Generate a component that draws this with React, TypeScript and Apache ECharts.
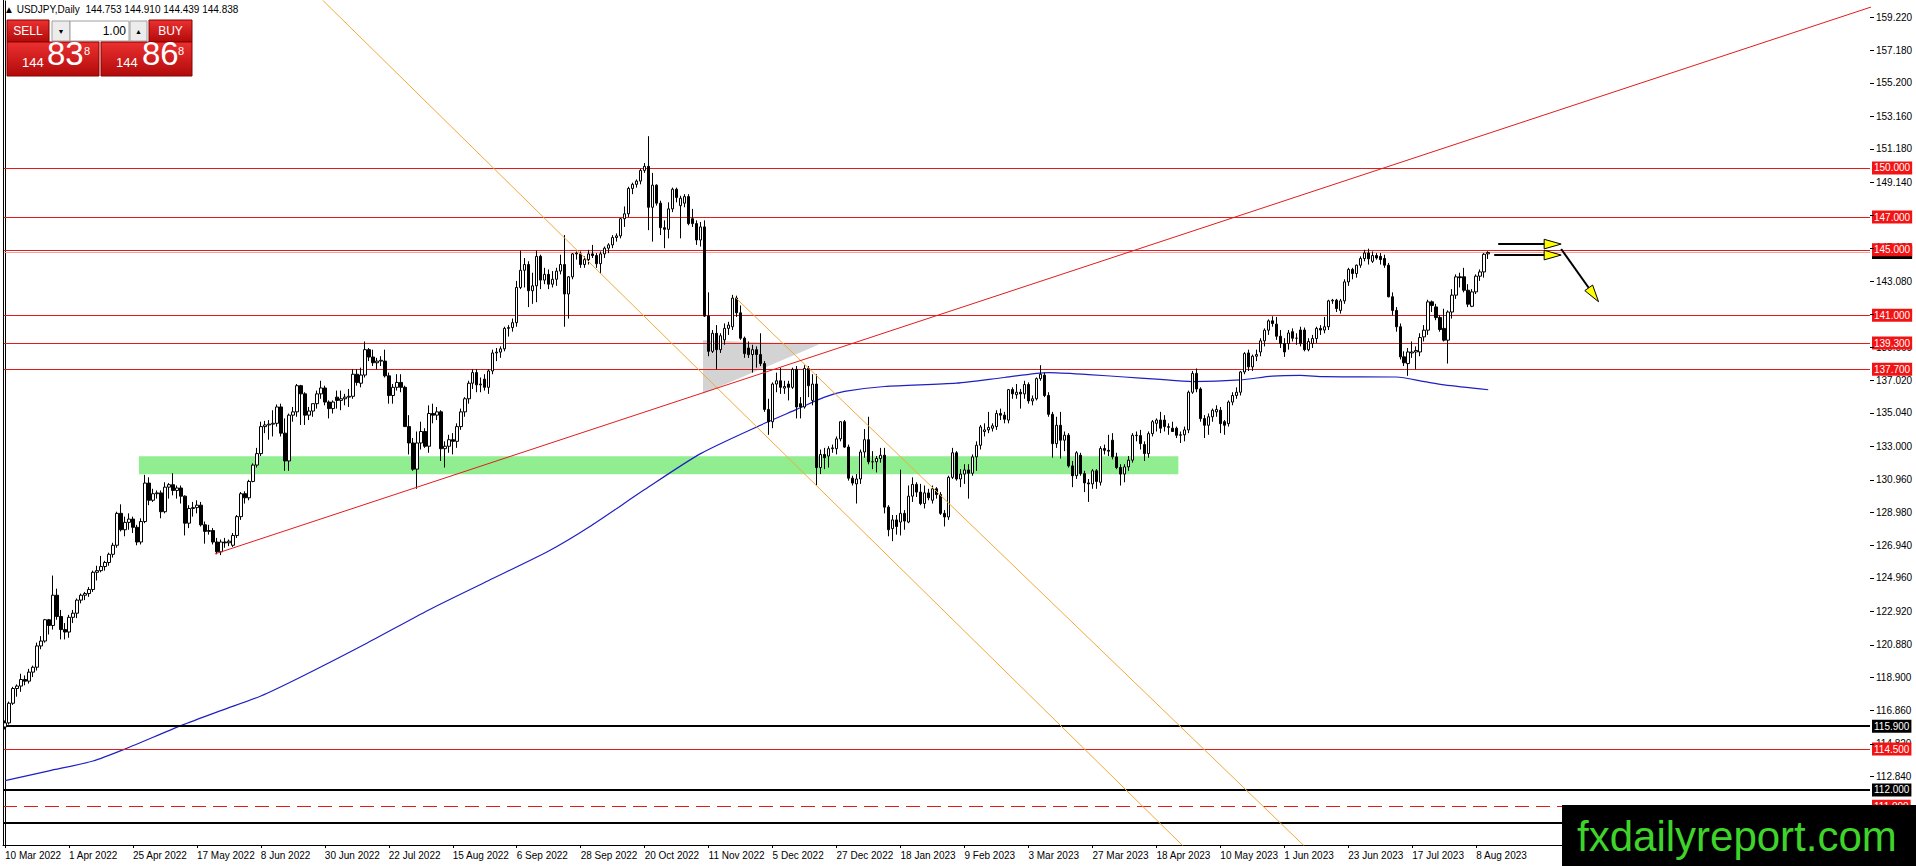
import React, { useEffect, useRef } from "react";
import * as echarts from "echarts";

// ---------- DATA ----------
// Each bar: [open, high, low, close]
const mar2022 = [
  [115.85, 116.25, 115.7, 116.1], [116.1, 117.4, 116.0, 117.3], [117.3, 118.3, 117.2, 118.2], [118.2, 118.45, 117.7, 118.35],
  [118.35, 119.1, 118.0, 118.75], [118.75, 119.0, 118.4, 118.65], [118.65, 119.4, 118.5, 119.2], [119.2, 119.6, 118.9, 119.5],
  [119.5, 121.0, 119.3, 120.8], [120.8, 121.4, 120.6, 121.1], [121.1, 122.45, 121.0, 122.4], [122.4, 122.45, 121.5, 122.05],
  [122.05, 125.1, 121.8, 123.9], [123.9, 124.3, 122.4, 122.6], [122.6, 123.0, 121.2, 121.8], [121.8, 122.2, 121.2, 121.65],
];
const apr2022 = [
  [121.65, 122.7, 121.3, 122.55], [122.55, 123.0, 122.2, 122.8], [122.8, 123.7, 122.5, 123.6], [123.6, 124.0, 123.4, 123.9],
  [123.9, 124.1, 123.6, 124.0], [124.0, 124.4, 123.8, 124.25], [124.25, 125.4, 124.1, 125.3], [125.3, 125.7, 124.8, 125.4],
  [125.4, 126.3, 125.3, 125.65], [125.65, 126.0, 125.4, 125.9], [125.9, 126.5, 125.7, 126.4], [126.4, 127.1, 126.2, 126.95],
  [126.95, 129.0, 126.8, 128.9], [128.9, 129.45, 127.8, 127.9], [127.9, 128.7, 127.5, 128.35], [128.35, 128.9, 127.9, 128.55],
  [128.55, 128.7, 127.7, 128.05], [128.05, 128.2, 126.95, 127.15], [127.15, 128.6, 127.0, 128.4], [128.4, 131.25, 128.3, 130.75],
  [130.75, 131.1, 129.4, 129.7],
];
const may2022 = [
  [129.7, 130.4, 129.6, 130.1], [130.1, 130.3, 129.8, 130.15], [130.15, 130.3, 128.6, 129.0], [129.0, 130.8, 128.9, 130.5],
  [130.5, 130.75, 129.8, 130.65], [130.65, 131.35, 130.0, 130.3], [130.3, 130.6, 129.8, 130.45], [130.45, 130.6, 129.5, 129.95],
  [129.95, 130.0, 127.55, 128.3], [128.3, 129.4, 128.0, 129.2], [129.2, 129.6, 128.7, 129.25], [129.25, 129.7, 128.9, 129.4],
  [129.4, 129.6, 128.1, 128.2], [128.2, 128.4, 127.05, 127.8], [127.8, 128.2, 127.6, 127.85], [127.85, 128.0, 127.0, 127.15],
  [127.15, 127.4, 126.4, 126.55], [126.55, 127.3, 126.35, 127.15], [127.15, 127.4, 126.8, 127.1], [127.1, 127.3, 126.9, 127.2],
  [126.95, 127.7, 126.85, 127.55], [127.55, 128.8, 127.4, 128.7],
];
const jun2022 = [
  [128.7, 130.2, 128.5, 130.1], [130.1, 130.25, 129.5, 129.85], [129.85, 130.95, 129.7, 130.85], [130.85, 131.95, 130.8, 131.85],
  [131.85, 132.9, 131.7, 132.55], [132.55, 134.5, 132.4, 134.2], [134.2, 134.55, 133.8, 134.3], [134.3, 134.6, 133.4, 134.35],
  [134.35, 135.2, 133.6, 134.4], [134.4, 135.55, 134.2, 135.4], [135.4, 135.6, 133.6, 133.8], [133.8, 134.7, 131.5, 132.1],
  [132.1, 135.0, 131.5, 134.9], [134.9, 135.4, 134.5, 135.1], [135.1, 136.8, 134.8, 136.7], [136.7, 136.75, 134.3, 136.2],
  [136.2, 136.3, 134.3, 134.9], [134.9, 135.4, 134.6, 135.15], [135.15, 135.6, 134.8, 135.6], [135.6, 136.4, 135.3, 136.2],
  [136.2, 137.0, 135.9, 136.56], [136.56, 136.7, 135.5, 135.7],
];
const jul2022 = [
  [135.7, 135.8, 134.7, 135.3], [135.3, 135.8, 135.0, 135.7], [136.0, 136.4, 135.3, 135.8], [135.8, 136.4, 135.2, 135.9],
  [135.9, 136.2, 135.5, 136.0], [136.0, 136.5, 135.4, 136.05], [136.05, 137.7, 135.9, 137.4], [137.4, 137.7, 136.7, 136.9],
  [136.85, 137.8, 136.6, 137.35], [137.35, 139.4, 137.2, 138.9], [138.9, 139.0, 138.2, 138.45], [138.45, 138.9, 137.9, 138.1],
  [138.1, 138.4, 137.7, 138.2], [138.2, 138.5, 137.9, 138.25], [138.2, 138.9, 137.2, 137.3], [137.3, 137.5, 135.6, 136.1],
  [136.1, 136.8, 135.6, 136.6], [136.6, 137.4, 136.4, 136.9], [136.9, 137.4, 136.3, 136.6], [136.6, 136.7, 134.2, 134.2],
  [134.2, 134.9, 132.5, 133.2],
];
const aug2022 = [
  [133.2, 133.5, 131.5, 131.6], [131.6, 133.9, 130.4, 133.2], [133.2, 134.5, 132.8, 133.9], [133.9, 134.1, 132.9, 133.0],
  [133.0, 135.5, 132.6, 135.0], [135.0, 135.6, 134.4, 134.9], [134.9, 135.4, 134.6, 135.1], [135.1, 135.2, 132.1, 132.85],
  [132.85, 133.3, 131.7, 133.0], [133.0, 133.7, 132.6, 133.4], [133.4, 133.8, 132.5, 133.3], [133.3, 134.4, 132.9, 134.2],
  [134.2, 135.3, 134.0, 135.1], [135.1, 136.0, 134.8, 135.9], [135.9, 137.0, 135.6, 136.85], [136.85, 137.7, 136.5, 137.5],
  [137.5, 137.7, 136.3, 136.75], [136.75, 137.2, 136.3, 136.8], [137.1, 137.4, 136.4, 136.6], [136.6, 137.7, 136.2, 137.6],
  [137.6, 138.9, 137.4, 138.7], [138.7, 139.0, 138.2, 138.75], [138.75, 139.1, 138.4, 138.95],
];
const sep2022 = [
  [138.95, 140.3, 138.8, 140.2], [140.2, 140.4, 139.7, 140.25], [140.25, 140.8, 140.0, 140.55], [140.55, 143.1, 140.3, 142.7],
  [142.7, 144.95, 142.6, 143.75], [143.75, 144.5, 142.7, 144.1], [144.1, 144.3, 141.5, 142.5], [142.5, 143.6, 141.7, 142.8],
  [142.8, 144.95, 141.8, 144.6], [144.6, 144.7, 142.6, 143.15], [143.15, 143.9, 142.9, 143.5], [143.5, 143.8, 142.6, 142.9],
  [142.9, 143.7, 142.7, 143.2], [143.2, 143.9, 142.8, 143.7], [143.7, 144.7, 143.5, 144.1], [144.1, 145.9, 140.3, 142.3],
  [142.3, 143.4, 140.8, 143.35], [143.35, 144.8, 143.2, 144.75], [144.75, 144.9, 144.4, 144.8], [144.75, 144.9, 143.9, 144.1],
  [144.1, 144.6, 143.9, 144.4], [144.4, 145.0, 144.1, 144.75],
];
const oct2022 = [
  [144.75, 145.3, 144.5, 144.65], [144.65, 144.8, 143.9, 144.15], [144.15, 144.9, 143.55, 144.75], [144.75, 145.2, 144.5, 145.1],
  [145.1, 145.4, 144.8, 145.3], [145.3, 145.9, 145.1, 145.75], [145.75, 146.0, 145.5, 145.85], [145.85, 146.95, 145.7, 146.9],
  [146.9, 147.65, 146.4, 147.2], [147.2, 148.85, 147.0, 148.75], [148.75, 149.1, 148.4, 149.0], [149.0, 149.3, 148.8, 149.2],
  [149.2, 149.95, 149.0, 149.85], [149.85, 150.3, 149.7, 150.1], [150.1, 151.94, 146.2, 147.6], [147.6, 149.7, 145.5, 148.95],
  [148.95, 149.0, 147.7, 147.85], [147.85, 148.0, 145.9, 146.35], [146.35, 146.8, 145.1, 146.25], [146.25, 147.9, 145.7, 147.5],
  [147.5, 148.8, 147.3, 148.7],
];
const nov2022 = [
  [148.7, 148.8, 147.9, 148.2], [147.7, 148.3, 145.7, 148.15], [147.85, 148.4, 147.6, 148.25], [148.25, 148.4, 146.5, 146.6],
  [146.9, 147.5, 146.4, 146.6], [146.6, 146.8, 145.3, 145.6], [145.6, 146.7, 145.2, 146.4], [146.4, 146.8, 140.9, 140.95],
  [140.95, 142.4, 138.5, 138.8], [138.8, 140.1, 138.7, 139.9], [139.9, 140.4, 137.7, 138.9], [138.9, 139.9, 138.7, 139.75],
  [139.5, 140.5, 139.2, 140.2], [140.2, 140.6, 139.8, 140.4], [140.3, 142.25, 140.1, 142.05], [142.05, 142.2, 140.9, 141.15],
  [141.15, 141.6, 139.5, 139.6], [139.6, 139.7, 138.4, 138.66], [139.0, 139.4, 138.4, 138.6], [138.6, 139.2, 137.5, 138.9],
  [138.9, 139.1, 137.8, 138.6], [138.6, 139.9, 137.9, 138.05],
];
const dec2022 = [
  [138.05, 138.2, 135.1, 135.25], [135.25, 135.9, 133.7, 134.5], [134.5, 136.9, 134.1, 136.8], [136.8, 137.5, 136.3, 137.0],
  [137.0, 137.8, 136.2, 136.6], [136.55, 137.0, 136.2, 136.65], [136.8, 137.0, 135.8, 136.6], [136.6, 137.8, 136.5, 137.7],
  [137.7, 137.9, 134.7, 135.4], [135.6, 136.0, 134.7, 135.4], [135.4, 137.95, 135.3, 137.75], [137.75, 137.9, 136.0, 136.7],
  [135.8, 137.4, 135.5, 136.8], [136.8, 137.4, 130.6, 131.7], [131.7, 132.8, 131.3, 132.5], [132.5, 132.9, 131.6, 132.3],
  [132.4, 133.0, 131.7, 132.85], [132.85, 133.1, 132.6, 132.9], [132.85, 133.6, 132.5, 133.45], [133.45, 134.5, 133.3, 134.5],
  [134.5, 134.6, 132.9, 132.95], [132.95, 133.1, 130.9, 131.05],
];
const jan2023 = [
  [131.05, 131.2, 130.6, 130.75], [130.7, 131.3, 129.5, 131.0], [131.0, 132.8, 130.7, 132.65], [132.65, 134.05, 132.3, 133.4],
  [133.4, 134.8, 131.9, 132.05], [132.05, 132.7, 131.6, 132.05], [132.05, 132.4, 131.4, 132.25], [132.25, 132.9, 132.0, 132.45],
  [132.45, 132.9, 128.9, 129.28], [129.28, 129.4, 127.5, 127.9], [127.97, 128.8, 127.2, 128.5], [128.5, 128.8, 127.6, 128.1],
  [128.37, 131.57, 127.55, 128.9], [128.9, 129.1, 127.9, 128.43], [128.37, 130.6, 128.3, 129.95], [129.95, 131.1, 129.6, 130.67],
  [130.67, 130.8, 129.9, 130.2], [130.2, 130.7, 129.4, 129.5], [129.5, 130.6, 129.2, 130.15], [130.15, 130.4, 129.7, 129.85],
  [129.7, 130.6, 129.5, 130.4], [130.4, 130.5, 129.8, 130.05],
];
const feb2023 = [
  [130.05, 130.2, 128.8, 128.9], [128.9, 129.1, 128.1, 128.68], [128.68, 131.2, 128.5, 131.1], [131.1, 132.9, 131.0, 132.6],
  [132.6, 132.7, 130.9, 131.0], [131.0, 131.6, 130.5, 131.3], [131.3, 131.9, 130.7, 131.55], [131.55, 131.9, 129.8, 131.35],
  [131.35, 132.5, 131.2, 132.35], [132.35, 133.3, 131.5, 133.06], [133.06, 134.3, 132.8, 134.18], [133.9, 134.4, 133.6, 134.0],
  [134.0, 135.1, 133.8, 134.15], [134.1, 134.4, 133.9, 134.25], [134.2, 135.2, 134.0, 135.0], [135.0, 135.3, 134.6, 134.9],
  [134.9, 135.1, 134.4, 134.65], [134.6, 136.5, 134.4, 136.46], [136.46, 136.6, 135.9, 136.2], [136.15, 136.8, 135.9, 136.3],
];
const mar2023 = [
  [136.3, 136.5, 135.3, 136.2], [136.2, 137.0, 135.9, 136.77], [136.77, 136.9, 135.6, 135.77], [135.77, 136.1, 135.5, 135.9],
  [135.9, 137.2, 135.8, 137.13], [137.13, 137.95, 137.0, 137.4], [137.34, 137.5, 136.0, 136.1], [136.1, 136.3, 134.8, 134.95],
  [134.95, 135.1, 132.3, 133.16], [133.16, 134.8, 132.9, 134.28], [134.28, 135.1, 132.25, 133.37], [133.37, 133.9, 132.7, 133.67],
  [133.67, 133.8, 131.7, 131.8], [131.8, 132.1, 130.5, 131.2], [131.2, 132.7, 131.0, 132.6], [132.45, 132.6, 131.2, 131.33],
  [131.33, 131.5, 130.2, 130.76], [130.76, 131.0, 129.6, 130.7], [130.7, 131.6, 130.4, 131.5], [131.5, 131.6, 130.4, 130.85],
  [130.8, 133.0, 130.6, 132.86], [132.86, 133.1, 132.5, 132.75], [132.75, 133.7, 132.4, 132.7],
];
const apr2023 = [
  [133.37, 133.8, 132.2, 132.35], [132.35, 132.6, 131.6, 131.7], [131.7, 131.9, 130.6, 131.3], [131.3, 131.9, 130.8, 131.74],
  [131.74, 132.4, 131.5, 132.15], [132.15, 133.8, 132.0, 133.67], [133.67, 133.9, 133.3, 133.65], [133.65, 134.0, 132.8, 133.16],
  [133.1, 133.3, 132.1, 132.55], [132.55, 133.9, 132.3, 133.77], [133.77, 134.6, 133.6, 134.5], [134.4, 134.7, 133.9, 134.6],
  [134.6, 135.1, 133.8, 134.1], [134.6, 134.9, 133.9, 134.2], [134.15, 134.4, 133.7, 134.2], [134.1, 134.5, 133.9, 133.9],
  [134.1, 134.2, 133.5, 133.67], [133.67, 133.9, 133.2, 133.7], [133.7, 134.2, 133.3, 134.0], [134.0, 136.4, 133.8, 136.3],
];
const may2023 = [
  [136.3, 137.6, 136.2, 137.45], [137.45, 137.75, 136.3, 136.5], [136.5, 136.6, 134.5, 134.69], [134.69, 134.9, 133.5, 134.28],
  [134.28, 135.0, 133.7, 134.8], [134.8, 135.3, 134.5, 135.2], [135.1, 135.5, 134.8, 135.25], [135.2, 135.4, 133.8, 134.38],
  [134.5, 134.6, 133.7, 134.28], [134.38, 135.8, 134.2, 135.7], [135.7, 136.3, 135.5, 136.1], [136.1, 136.6, 135.9, 136.3],
  [136.3, 137.6, 136.1, 137.54], [137.54, 138.75, 137.4, 138.66], [138.7, 138.9, 137.6, 137.85], [137.85, 138.6, 137.6, 138.5],
  [138.5, 138.9, 138.2, 138.6], [138.76, 139.6, 138.5, 139.44], [139.44, 140.2, 139.1, 140.09], [140.09, 140.75, 139.8, 140.66],
  [140.66, 140.94, 140.3, 140.5], [140.46, 140.9, 139.5, 139.72], [139.72, 140.1, 139.0, 139.27],
];
const jun2023 = [
  [139.27, 139.6, 138.46, 138.76], [139.27, 140.1, 138.9, 139.92], [140.0, 140.2, 139.4, 139.6], [139.6, 139.9, 139.2, 139.6],
  [140.1, 140.3, 139.1, 139.27], [140.1, 140.25, 138.8, 138.9], [138.9, 139.6, 138.8, 139.4], [139.27, 139.8, 139.0, 139.58],
  [139.58, 140.3, 139.3, 140.2], [140.2, 140.4, 139.8, 140.1], [140.1, 140.9, 139.9, 140.3], [140.3, 141.95, 140.1, 141.88],
  [141.88, 142.0, 141.7, 141.92], [141.92, 142.0, 141.2, 141.41], [141.3, 142.0, 141.1, 141.88], [141.88, 143.2, 141.7, 143.04],
  [143.04, 143.9, 142.8, 143.8], [143.8, 143.9, 143.2, 143.55], [143.55, 144.1, 143.3, 144.06], [144.06, 144.6, 143.9, 144.47],
  [144.47, 145.0, 144.3, 144.81], [144.81, 145.07, 144.1, 144.45],
];
const jul2023 = [
  [144.3, 144.9, 144.2, 144.65], [144.65, 144.8, 144.4, 144.5], [144.6, 144.8, 144.1, 144.4], [144.47, 144.7, 143.9, 144.06],
  [144.06, 144.2, 142.1, 142.13], [142.13, 142.4, 141.0, 141.3], [141.3, 141.5, 140.0, 140.3], [140.3, 140.5, 138.3, 138.46],
  [138.46, 138.8, 137.9, 138.1], [138.05, 139.0, 137.3, 138.76], [138.7, 139.4, 138.4, 138.76], [138.76, 139.1, 137.7, 138.85],
  [138.76, 139.9, 138.5, 139.64], [139.68, 140.4, 139.4, 140.09], [140.09, 141.95, 139.8, 141.82], [141.82, 141.9, 141.2, 141.6],
  [141.51, 141.7, 140.7, 140.86], [140.86, 141.0, 140.0, 140.13], [140.2, 141.4, 139.4, 139.48], [139.48, 141.3, 138.05, 141.2],
  [141.2, 142.6, 140.8, 142.23],
];
const aug2023 = [
  [142.23, 143.5, 142.0, 143.35], [143.35, 143.6, 142.7, 143.3], [143.35, 143.9, 142.4, 142.53], [142.53, 142.9, 141.5, 141.68],
  [141.55, 142.6, 141.5, 142.43], [142.43, 143.5, 142.3, 143.39], [143.39, 143.8, 143.1, 143.65], [143.65, 144.8, 143.3, 144.73],
  [144.753, 144.91, 144.439, 144.838],
];

// 200-period moving average, sampled at bar indexes: [bar, price]
const movingAverage = [
  [0, 112.57], [11, 113.17], [22, 113.77], [30, 114.5], [44, 115.93], [54, 116.85], [64, 117.74], [74, 118.9],
  [90, 120.9], [106, 123.0], [121, 124.8], [136, 126.6], [146, 128.05], [160, 130.35], [174, 132.55], [190, 134.4],
  [198, 135.25], [205, 136.0], [210, 136.35], [220, 136.65], [238, 136.85], [250, 137.2], [261, 137.5], [271, 137.38],
  [280, 137.23], [288, 137.1], [297, 136.95], [309, 137.05], [317, 137.28], [324, 137.33], [330, 137.25], [348, 137.23],
  [355, 136.95], [360, 136.75], [371, 136.45],
];

// drawn objects, in [bar, price]
const risingTrendLine = [[52.5, 126.42], [467, 159.85]];
const channelLower = [[78, 160.6], [300, 107.3]];
const channelUpper = [[182.5, 142.13], [330, 107.4]];
const greenZoneBars = [33.5, 293.5];
const greenZonePrices = [131.29, 132.39];
const greyTriangle = [[174.6, 139.47], [203.75, 139.23], [174.6, 136.21]];
const arrowSegments = [
  [[373.5, 145.35], [389.25, 145.35]],
  [[372.5, 144.68], [389.25, 144.68]],
  [[389.25, 145.05], [398.6, 141.83]],
];

const redLevels = [150.0, 147.0, 145.0, 141.0, 139.3, 137.7, 114.5];
const dashedLevels = [111.0];
const blackLevels = [115.9, 112.0, 110.0];
const bidPrice = 144.838;
const headerText = "\u25B2 USDJPY,Daily  144.753 144.910 144.439 144.838";

const priceTicks = [
  159.22, 157.18, 155.2, 153.16, 151.18, 149.14, 147.1, 145.12, 143.08, 141.1, 139.06, 137.02, 135.04,
  133.0, 130.96, 128.98, 126.94, 124.96, 122.92, 120.88, 118.9, 116.86, 114.82, 112.84, 110.8,
];

const MONTHS = ["Jan", "Feb", "Mar", "Apr", "May", "Jun", "Jul", "Aug", "Sep", "Oct", "Nov", "Dec"];
const TOTAL_SLOTS = 467;
const LABEL_EVERY = 16;

// ---------- helpers ----------
const FONT = '"Liberation Sans", Arial, sans-serif';
const RED = "#e31b1b";
const RED_BOX = "#f21414";
const Y_MIN = 108.64;
const Y_MAX = 160.2;

const bars = [
  ...mar2022, ...apr2022, ...may2022, ...jun2022, ...jul2022, ...aug2022, ...sep2022, ...oct2022, ...nov2022,
  ...dec2022, ...jan2023, ...feb2023, ...mar2023, ...apr2023, ...may2023, ...jun2023, ...jul2023, ...aug2023,
];

function buildDates(count: number): string[] {
  const out: string[] = [];
  let t = Date.UTC(2022, 2, 10);
  while (out.length < count) {
    const d = new Date(t);
    const wd = d.getUTCDay();
    if (wd !== 0 && wd !== 6) out.push(`${d.getUTCDate()} ${MONTHS[d.getUTCMonth()]} ${d.getUTCFullYear()}`);
    t += 86400000;
  }
  return out;
}

function buildOption() {
  const dates = buildDates(bars.length);
  const categories: string[] = [];
  for (let i = 0; i < TOTAL_SLOTS; i++) categories.push(i < dates.length ? dates[i] : `+${i}`);
  const showAt = (i: number) => i % LABEL_EVERY === 0 && i < dates.length;
  const candleData = bars.map(([o, h, l, c]) => [o, c, l, h]);

  const boxLabel = (bg: string) => ({
    show: true,
    position: "end",
    distance: 2,
    formatter: (p: any) => Number(p.value).toFixed(3),
    color: "#ffffff",
    backgroundColor: bg,
    padding: [2, 2, 1, 2],
    fontSize: 10,
    fontFamily: FONT,
    lineHeight: 10,
  });

  const levelItems: any[] = [
    { yAxis: bidPrice, lineStyle: { color: "#f2a5a5", width: 1, type: "solid" }, label: boxLabel("#000000") },
    ...redLevels.map((v) => ({ yAxis: v, lineStyle: { color: RED, width: 1, type: "solid" }, label: boxLabel(RED_BOX) })),
    ...dashedLevels.map((v) => ({ yAxis: v, lineStyle: { color: RED, width: 1, type: [14, 7] }, label: boxLabel(RED_BOX) })),
    ...blackLevels.map((v) => ({ yAxis: v, lineStyle: { color: "#000000", width: 2, type: "solid" }, label: boxLabel("#000000") })),
  ];

  const redGrad = () =>
    new echarts.graphic.LinearGradient(0, 0, 0, 1, [
      { offset: 0, color: "#ec3030" },
      { offset: 1, color: "#b10a0a" },
    ]);
  const txt = (text: string, x: number, y: number, size: number, fill: string, align = "left", valign = "middle") => ({
    type: "text",
    x,
    y,
    z: 101,
    style: {
      text,
      fill,
      font: `${size}px ${FONT}`,
      textAlign: align,
      align,
      textVerticalAlign: valign,
      verticalAlign: valign,
    },
  });

  const graphic: any[] = [
    { type: "line", z: 99, shape: { x1: 3.5, y1: 0, x2: 3.5, y2: 845 }, style: { stroke: "#000000", lineWidth: 1 } },
    txt(headerText, 4, 9, 10, "#000000"),
    { type: "rect", z: 100, shape: { x: 7, y: 20, width: 42, height: 22 }, style: { fill: redGrad(), stroke: "#8a0000", lineWidth: 1 } },
    txt("SELL", 28, 31, 12, "#ffffff", "center"),
    { type: "rect", z: 100, shape: { x: 52, y: 21, width: 18, height: 20 }, style: { fill: "#ececec", stroke: "#a0a0a0", lineWidth: 1 } },
    txt("\u25BC", 61, 31, 7, "#000000", "center"),
    { type: "rect", z: 100, shape: { x: 70, y: 21, width: 59, height: 20 }, style: { fill: "#ffffff", stroke: "#a0a0a0", lineWidth: 1 } },
    txt("1.00", 126, 31, 12, "#000000", "right"),
    { type: "rect", z: 100, shape: { x: 130, y: 21, width: 17, height: 20 }, style: { fill: "#ececec", stroke: "#a0a0a0", lineWidth: 1 } },
    txt("\u25B2", 138.5, 31, 7, "#000000", "center"),
    { type: "rect", z: 100, shape: { x: 149, y: 20, width: 43, height: 22 }, style: { fill: redGrad(), stroke: "#8a0000", lineWidth: 1 } },
    txt("BUY", 170.5, 31, 12, "#ffffff", "center"),
    { type: "rect", z: 100, shape: { x: 7, y: 42, width: 92, height: 34 }, style: { fill: redGrad(), stroke: "#8a0000", lineWidth: 1 } },
    { type: "rect", z: 100, shape: { x: 101, y: 42, width: 91, height: 34 }, style: { fill: redGrad(), stroke: "#8a0000", lineWidth: 1 } },
    txt("144", 22, 69, 13, "#ffffff", "left", "bottom"),
    txt("83", 47, 70, 33, "#ffffff", "left", "bottom"),
    txt("8", 84, 45, 11, "#ffffff", "left", "top"),
    txt("144", 116, 69, 13, "#ffffff", "left", "bottom"),
    txt("86", 142, 70, 33, "#ffffff", "left", "bottom"),
    txt("8", 178, 45, 11, "#ffffff", "left", "top"),
    { type: "rect", z: 100, shape: { x: 1562, y: 805, width: 354, height: 61 }, style: { fill: "#000000" } },
    txt("fxdailyreport.com", 1577, 836, 42, "#3fd42a"),
  ];

  return {
    animation: false,
    backgroundColor: "#ffffff",
    textStyle: { fontFamily: FONT },
    grid: { left: 3, right: 46, top: 1, bottom: 21, containLabel: false },
    xAxis: [
      {
        type: "category",
        data: categories,
        boundaryGap: true,
        axisLine: { show: true, lineStyle: { color: "#000000", width: 1 } },
        axisTick: { show: true, alignWithLabel: true, interval: (i: number) => showAt(i), length: 3, lineStyle: { color: "#000000" } },
        axisLabel: { interval: (i: number) => showAt(i), align: "left", color: "#000000", fontSize: 10, fontFamily: FONT, margin: 5 },
        splitLine: { show: false },
      },
      { type: "value", min: -0.5, max: TOTAL_SLOTS - 0.5, show: false },
    ],
    yAxis: [
      {
        type: "value",
        position: "right",
        min: Y_MIN,
        max: Y_MAX,
        splitLine: { show: false },
        axisLine: { show: true, lineStyle: { color: "#000000" } },
        axisTick: { show: false },
        axisLabel: {
          customValues: priceTicks,
          formatter: (v: number) => v.toFixed(3),
          color: "#000000",
          fontSize: 10,
          fontFamily: FONT,
          margin: 6,
        },
      },
    ],
    graphic,
    series: [
      {
        type: "custom",
        name: "zones",
        xAxisIndex: 1,
        yAxisIndex: 0,
        z: 1,
        silent: true,
        data: [[0, 130]],
        renderItem: (_p: any, api: any) => {
          const a = api.coord([greenZoneBars[0], greenZonePrices[1]]);
          const b = api.coord([greenZoneBars[1], greenZonePrices[0]]);
          const tri = greyTriangle.map((pt) => api.coord(pt));
          return {
            type: "group",
            children: [
              { type: "rect", shape: { x: a[0], y: a[1], width: b[0] - a[0], height: b[1] - a[1] }, style: { fill: "#90ee90" } },
              { type: "polygon", shape: { points: tri }, style: { fill: "#d3d3d3" } },
            ],
          };
        },
      },
      {
        type: "line",
        name: "MA",
        xAxisIndex: 1,
        data: movingAverage,
        smooth: 0.25,
        showSymbol: false,
        silent: true,
        z: 3,
        lineStyle: { color: "#1f1fc4", width: 1.2 },
      },
      {
        type: "candlestick",
        name: "USDJPY",
        xAxisIndex: 0,
        data: candleData,
        barWidth: 3,
        z: 5,
        silent: true,
        itemStyle: { color: "#ffffff", color0: "#000000", borderColor: "#000000", borderColor0: "#000000", borderWidth: 1 },
      },
      {
        type: "line",
        name: "channelLower",
        xAxisIndex: 1,
        data: channelLower,
        showSymbol: false,
        silent: true,
        z: 6,
        lineStyle: { color: "#f0a93a", width: 1 },
      },
      {
        type: "line",
        name: "channelUpper",
        xAxisIndex: 1,
        data: channelUpper,
        showSymbol: false,
        silent: true,
        z: 6,
        lineStyle: { color: "#f0a93a", width: 1 },
      },
      {
        type: "line",
        name: "trend",
        xAxisIndex: 1,
        data: risingTrendLine,
        showSymbol: false,
        silent: true,
        z: 7,
        lineStyle: { color: RED, width: 1 },
        markLine: { silent: true, symbol: ["none", "none"], animation: false, data: levelItems },
      },
      {
        type: "custom",
        name: "arrowsAndTicks",
        xAxisIndex: 1,
        yAxisIndex: 0,
        z: 8,
        silent: true,
        data: [[0, 130]],
        renderItem: (_p: any, api: any) => {
          const children: any[] = [];
          // price-axis tick marks on the right edge
          priceTicks.forEach((v) => {
            const p = api.coord([TOTAL_SLOTS - 0.5, v]);
            const y = Math.round(p[1]) + 0.5;
            children.push({
              type: "line",
              shape: { x1: p[0], y1: y, x2: p[0] + 4, y2: y },
              style: { stroke: "#000000", lineWidth: 1 },
            });
          });
          const HEAD_LEN = 17;
          const HEAD_HALF = 4.8;
          arrowSegments.forEach(([tail, tip]) => {
            const a = api.coord(tail);
            const b = api.coord(tip);
            const dx = b[0] - a[0];
            const dy = b[1] - a[1];
            const len = Math.hypot(dx, dy) || 1;
            const ux = dx / len;
            const uy = dy / len;
            const bx = b[0] - ux * HEAD_LEN;
            const by = b[1] - uy * HEAD_LEN;
            children.push({
              type: "line",
              shape: { x1: a[0], y1: a[1], x2: bx + ux * 3, y2: by + uy * 3 },
              style: { stroke: "#000000", lineWidth: 2 },
            });
            children.push({
              type: "polygon",
              shape: { points: [[b[0], b[1]], [bx - uy * HEAD_HALF, by + ux * HEAD_HALF], [bx + uy * HEAD_HALF, by - ux * HEAD_HALF]] },
              style: { fill: "#ffff00", stroke: "#000000", lineWidth: 1 },
            });
          });
          return { type: "group", children };
        },
      },
    ],
  };
}

export default function App() {
  const ref = useRef<HTMLDivElement>(null);
  useEffect(() => {
    if (!ref.current) return;
    const chart = echarts.init(ref.current, undefined, { renderer: "svg" });
    chart.setOption(buildOption() as any);
    return () => {
      chart.dispose();
    };
  }, []);
  return (
    <div
      ref={ref}
      style={{ position: "fixed", left: 0, top: 0, width: 1916, height: 866, background: "#ffffff" }}
    />
  );
}
